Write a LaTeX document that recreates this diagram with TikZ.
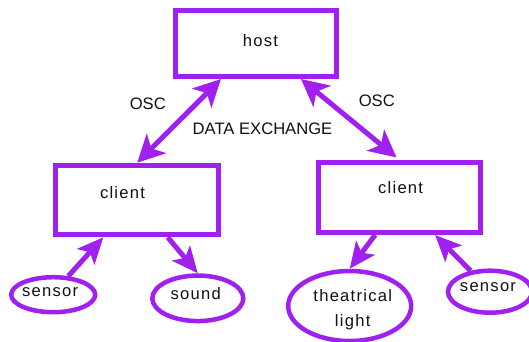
\documentclass[tikz,border=0pt]{standalone}
\usepackage{fontspec}
\setmainfont{Liberation Sans}
\newfontfamily\spacedfont[LetterSpace=7.5]{Liberation Sans}
\usetikzlibrary{shapes.geometric,arrows.meta,calc}
\definecolor{vio}{HTML}{A020F0}
\definecolor{ink}{HTML}{111111}
\tikzset{
  boxnode/.style={draw=vio, line width=5pt, inner sep=0pt},
  ovalnode/.style={ellipse, draw=vio, line width=4.5pt, inner sep=0pt},
  lab/.style={font=\fontsize{16.6}{25}\selectfont, text=ink, inner sep=0pt},
  slab/.style={font=\spacedfont\fontsize{16.6}{25}\selectfont, text=ink, inner sep=0pt},
  bigarr/.style={draw=vio, line width=5pt,
    {Stealth[length=27pt,width=27pt,inset=7pt]}-{Stealth[length=27pt,width=27pt,inset=7pt]}},
  smallarr/.style={draw=vio, line width=5pt,
    -{Stealth[length=26pt,width=23pt,inset=6pt]}}
}
\begin{document}
\begin{tikzpicture}[x=1pt,y=-1pt]
\useasboundingbox (0,0) rectangle (529,341);
\fill[white] (0,0) rectangle (529,341);

% boxes
\node[boxnode, minimum width=161pt, minimum height=66pt,
  label={[slab,xshift=4.5pt,yshift=2.5pt]center:host}] (host) at (256,43.5) {};
\node[boxnode, minimum width=162.7pt, minimum height=69.6pt,
  label={[slab,xshift=-14.7pt,yshift=7pt]center:client}] (lc) at (137.2,200) {};
\node[boxnode, minimum width=162pt, minimum height=70pt,
  label={[slab,xshift=1pt,yshift=10pt]center:client}] (rc) at (399.6,197.5) {};

% ovals
\node[ovalnode, minimum width=84pt, minimum height=35pt,
  label={[slab,xshift=-3pt,yshift=3pt]center:sensor}] (ls) at (53.2,294.7) {};
\node[ovalnode, minimum width=91pt, minimum height=45.5pt,
  label={[slab,xshift=-2pt,yshift=4.3pt]center:sound}] (snd) at (197.8,298.3) {};
\node[ovalnode, minimum width=123pt, minimum height=70pt,
  label={[slab,align=center,xshift=3pt,yshift=-4pt]center:theatrical\\light}] (tl) at (349.7,306) {};
\node[ovalnode, minimum width=84pt, minimum height=42pt,
  label={[slab,xshift=-2pt,yshift=5pt]center:sensor}] (rs) at (490,291.7) {};

% labels
\node[lab] (osc1) at (147.8,104.2) {OSC};
\node[lab] (osc2) at (376.8,100.5) {OSC};
\node[lab] (dx) at (262.5,128.7) {DATA EXCHANGE};

% connectors
\draw[bigarr] (lc.north) -- ($(host.south west)+(48,0)$);
\draw[bigarr, shorten <=4pt] (rc.north) -- ($(host.south east)+(-38,0)$);
\draw[smallarr] (ls.51) -- ($(lc.south west)+(50,0)$);
\draw[smallarr] ($(lc.south west)+(114.4,0)$) -- (snd.north);
\draw[smallarr] ($(rc.south west)+(59,0)$) -- (tl.north);
\draw[smallarr] (rs.133) -- ($(rc.south east)+(-48,0)$);
\end{tikzpicture}
\end{document}
